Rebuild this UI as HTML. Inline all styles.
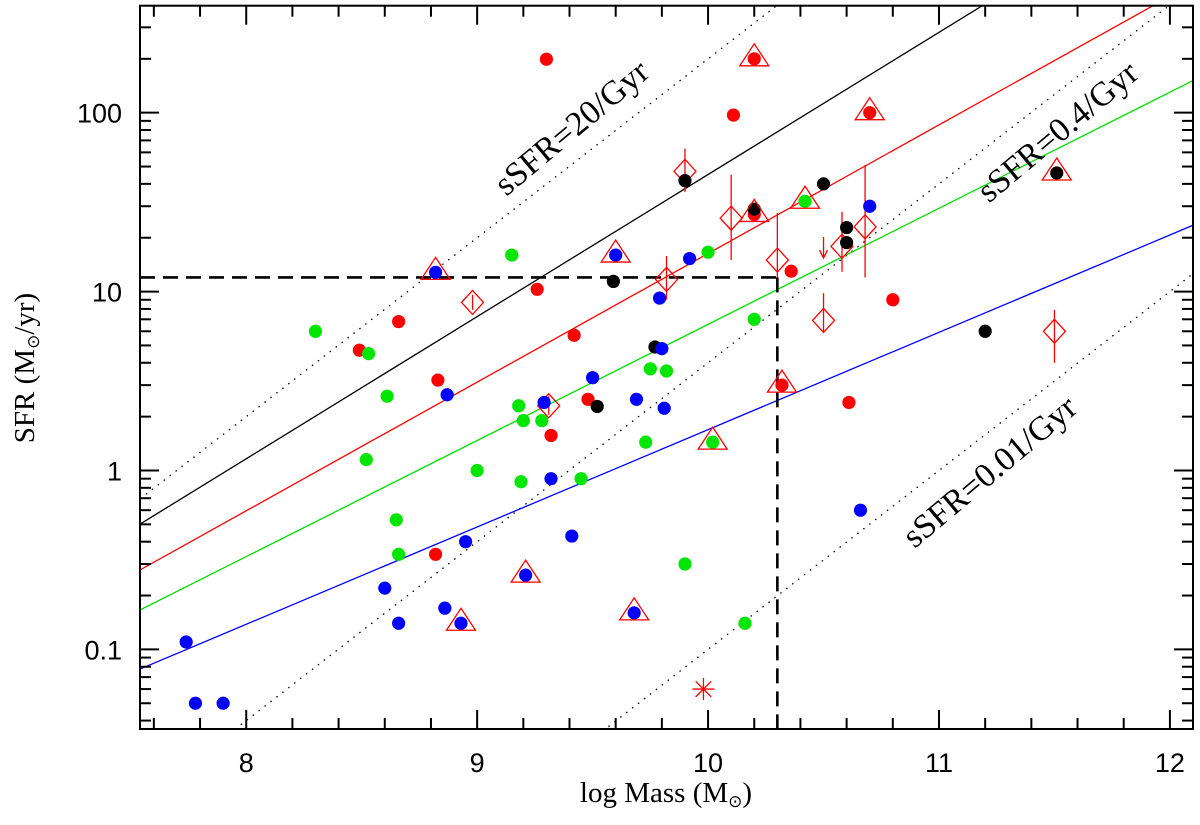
<!DOCTYPE html>
<html><head><meta charset="utf-8"><style>
html,body{margin:0;padding:0;background:#fff;width:1200px;height:825px;overflow:hidden;}
svg{display:block;overflow:hidden;}
</style></head><body>
<svg id="chart" width="1200" height="825" viewBox="0 0 1200 825" xmlns="http://www.w3.org/2000/svg">
<rect x="0" y="0" width="1200" height="825" fill="#fff"/>
<g id="lines"></g><g id="marks"></g><g id="axes"></g>
<text x="666" y="802" font-family="Liberation Serif, serif" font-size="29" text-anchor="middle">log Mass (M<tspan font-family="DejaVu Sans, sans-serif" font-size="17" dy="5">⊙</tspan><tspan dy="-5">)</tspan></text>
<text transform="translate(34,368) rotate(-90)" font-family="Liberation Serif, serif" font-size="29" text-anchor="middle">SFR (M<tspan font-family="DejaVu Sans, sans-serif" font-size="17" dy="5">⊙</tspan><tspan dy="-5">/yr)</tspan></text>
<text transform="translate(572,128) rotate(-40)" font-family="Liberation Serif, serif" font-size="34" text-anchor="middle" dominant-baseline="central">sSFR=20/Gyr</text>
<text transform="translate(1058,132) rotate(-40)" font-family="Liberation Serif, serif" font-size="34" text-anchor="middle" dominant-baseline="central">sSFR=0.4/Gyr</text>
<text transform="translate(990,472) rotate(-40)" font-family="Liberation Serif, serif" font-size="34" text-anchor="middle" dominant-baseline="central">sSFR=0.01/Gyr</text>
</svg>
<script>
// ---- data ----
const redMass = [9.30,10.20,10.11,10.70,10.20,10.36,9.26,8.49,8.66,9.42,8.83,9.48,9.32,10.32,10.80,10.61,8.82];
const redSFR  = [199,200,97,100,27,13,10.3,4.7,6.8,5.7,3.2,2.5,1.57,3.0,9.0,2.4,0.34];
const blackMass = [9.90,10.50,10.20,10.60,10.60,11.51,9.59,9.77,9.52,11.20];
const blackSFR  = [41.7,40,28.9,22.8,18.8,46,11.4,4.9,2.28,6.0];
const greenMass = [8.30,8.53,9.15,10.00,10.42,10.20,8.61,8.52,9.00,8.65,8.66,9.75,9.82,9.18,9.20,9.28,9.73,10.02,9.19,9.45,9.90,10.16];
const greenSFR  = [6.0,4.5,16,16.6,32,7.0,2.6,1.15,1.0,0.53,0.34,3.7,3.6,2.3,1.9,1.9,1.44,1.44,0.865,0.90,0.30,0.14];
const blueMass = [8.82,9.60,9.92,10.70,9.79,9.80,8.87,9.50,9.29,9.69,9.81,9.32,9.41,8.95,8.60,8.86,8.93,8.66,7.74,7.78,7.90,9.21,9.68,10.66];
const blueSFR  = [12.8,16,15.3,30,9.2,4.8,2.65,3.3,2.4,2.5,2.23,0.90,0.43,0.40,0.22,0.17,0.14,0.14,0.11,0.05,0.05,0.26,0.16,0.60];
const triMass = [8.82,10.20,10.20,10.42,9.60,10.70,11.51,10.32,10.02,9.21,8.93,9.68];
const triSFR  = [12.8,200,27,32,16,100,46,3.0,1.44,0.26,0.14,0.16];
const diaMass = [9.90,10.10,9.82,10.30,10.50,10.58,10.68,11.50,8.98,9.31];
const diaSFR  = [47,25.7,11.7,15,6.9,17.9,23,6.0,8.7,2.3];
const diaLow  = [36,15,9.0,12,5.9,12.9,12,4.0,7.9,2.05];
const diaHigh = [63,45,15.8,27.5,9.8,27.9,51,7.9,9.6,2.6];
const limitMass = [10.5];
const limitSFR  = [20.2];
const limitTo   = [15.4];
const starMass = [9.98];
const starSFR  = [0.06];
const fitNames = ['black','red','green','blue'];
const fitSlope = [0.7945,0.719,0.649,0.544];
const fitLeftLog = [-0.30,-0.556,-0.78,-1.11];
const ssfrValues = [20,0.4,0.01];
const cutMass = [10.3];
const cutSFR = [12];
const xTickLabels = [8,9,10,11,12];
const yTickLabels = [0.1,1,10,100];

// ---- scales ----
const X0=140,X1=1193,Y0=5.7,Y1=729;
const xMin=7.54,xMax=12.1;
const yMinLog=-1.445,yMaxLog=2.598;
const sx=m=>X0+(m-xMin)/(xMax-xMin)*(X1-X0);
const syl=l=>Y1-(l-yMinLog)/(yMaxLog-yMinLog)*(Y1-Y0);
const sy=v=>syl(Math.log10(v));
const NS='http://www.w3.org/2000/svg';
function mk(tag,attrs,parent){const e=document.createElementNS(NS,tag);for(const k in attrs)e.setAttribute(k,attrs[k]);parent.appendChild(e);return e;}
const gL=document.getElementById('lines'),gM=document.getElementById('marks'),gA=document.getElementById('axes');

const defs=mk('defs',{},document.getElementById('chart'));
const cp=mk('clipPath',{id:'plotclip'},defs);
mk('rect',{x:X0,y:Y0,width:X1-X0,height:Y1-Y0},cp);
gL.setAttribute('clip-path','url(#plotclip)');

ssfrValues.forEach((s,i)=>{
  const f=m=>m+Math.log10(s)-9;
  const l=mk('line',{x1:sx(xMin),y1:syl(f(xMin)),x2:sx(xMax),y2:syl(f(xMax)),stroke:'#000','stroke-width':1.3,'stroke-dasharray':'1.5 6'},gL);
  
  
});
const fitColor={black:'#000',red:'#ff0000',green:'#00e000',blue:'#0000ff'};
fitNames.forEach((n,i)=>{
  const f=m=>fitLeftLog[i]+fitSlope[i]*(m-xMin);
  const l=mk('line',{x1:sx(xMin),y1:syl(f(xMin)),x2:sx(xMax),y2:syl(f(xMax)),stroke:fitColor[n],'stroke-width':1.3},gL);
  
  
});
{
  const h=mk('line',{x1:X0,y1:sy(cutSFR[0]),x2:sx(cutMass[0]),y2:sy(cutSFR[0]),stroke:'#000','stroke-width':2.6,'stroke-dasharray':'15 8'},gL);
  
  
  const v=mk('line',{x1:sx(cutMass[0]),y1:sy(cutSFR[0]),x2:sx(cutMass[0]),y2:Y1,stroke:'#000','stroke-width':2.6,'stroke-dasharray':'15 8'},gL);
  
  
}

diaMass.forEach((m,i)=>{
  const x=sx(m),y=sy(diaSFR[i]);
  const g=mk('g',{},gM);
  
  
  mk('line',{x1:x,y1:sy(diaHigh[i]),x2:x,y2:sy(diaLow[i]),stroke:'#ff0000','stroke-width':1.3},g);
  mk('polygon',{points:`${x},${y-12} ${x+11},${y} ${x},${y+12} ${x-11},${y}`,fill:'none',stroke:'#ff0000','stroke-width':1.3},g);
});
limitMass.forEach((m,i)=>{
  const x=sx(m),y1=sy(limitSFR[i]),y2=sy(limitTo[i]);
  const g=mk('g',{},gM);
  
  
  mk('line',{x1:x,y1:y1,x2:x,y2:y2,stroke:'#ff0000','stroke-width':1.3},g);
  mk('polyline',{points:`${x-4},${y2-8} ${x},${y2} ${x+4},${y2-8}`,fill:'none',stroke:'#ff0000','stroke-width':1.3},g);
});
starMass.forEach((m,i)=>{
  const x=sx(m),y=sy(starSFR[i]);
  const g=mk('g',{},gM);
  
  
  for(let k=0;k<4;k++){const a=k*Math.PI/4+Math.PI/2;mk('line',{x1:x-11*Math.cos(a),y1:y-11*Math.sin(a),x2:x+11*Math.cos(a),y2:y+11*Math.sin(a),stroke:'#ff0000','stroke-width':1.3},g);}
});
function dots(ms,ss,col,name){ms.forEach((m,i)=>{
  const c=mk('circle',{cx:sx(m),cy:sy(ss[i]),r:6.6,fill:col},gM);
  
  
});}
dots(redMass,redSFR,'#ff0000','red-point');
dots(blackMass,blackSFR,'#000000','black-point');
dots(greenMass,greenSFR,'#00e600','green-point');
dots(blueMass,blueSFR,'#0000ff','blue-point');
triMass.forEach((m,i)=>{
  const x=sx(m),y=sy(triSFR[i]);
  const t=mk('polygon',{points:`${x},${y-15} ${x+14.5},${y+7} ${x-14.5},${y+7}`,fill:'none',stroke:'#ff0000','stroke-width':1.3},gM);
  
  
});

const fr=mk('rect',{x:X0,y:Y0,width:X1-X0,height:Y1-Y0,fill:'none',stroke:'#000','stroke-width':2},gA);


for(let t=7.6;t<=12.1+1e-9;t+=0.2){
  const tr=Math.round(t*10)/10;const major=Math.abs(tr-Math.round(tr))<1e-6;const L=major?19:11;const x=sx(tr);
  mk('line',{x1:x,y1:Y1,x2:x,y2:Y1-L,stroke:'#000','stroke-width':2},gA);
  mk('line',{x1:x,y1:Y0,x2:x,y2:Y0+L,stroke:'#000','stroke-width':2},gA);
}
xTickLabels.forEach(v=>{
  const t=mk('text',{x:sx(v),y:772,'font-family':'Liberation Sans, sans-serif','font-size':27,'text-anchor':'middle'},gA);
  t.textContent=String(v);
  
  
});
for(let d=-2;d<=2;d++){for(let k=1;k<=9;k++){
  const l=d+Math.log10(k);if(l<yMinLog||l>yMaxLog)continue;const L=k===1?19:11;const y=syl(l);
  mk('line',{x1:X0,y1:y,x2:X0+L,y2:y,stroke:'#000','stroke-width':2},gA);
  mk('line',{x1:X1,y1:y,x2:X1-L,y2:y,stroke:'#000','stroke-width':2},gA);
}}
yTickLabels.forEach(v=>{
  const t=mk('text',{x:122,y:sy(v)+10,'font-family':'Liberation Sans, sans-serif','font-size':27,'text-anchor':'end'},gA);
  t.textContent=String(v);
  
  
});
</script>
</body></html>
